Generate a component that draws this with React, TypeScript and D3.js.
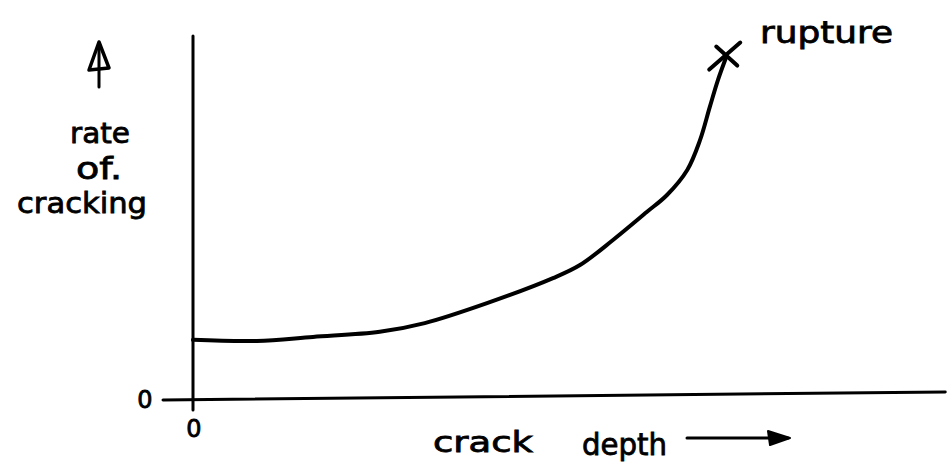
import React from 'react';
import * as d3 from 'd3';

// hand sketch: rate of cracking vs crack depth (arbitrary units, 0..100 on both axes)
const crackDepth = [0, 8.5, 16.0, 24.9, 30.9, 39.2, 48.0, 51.6, 56.0, 60.5, 63.2, 65.9, 67.6, 68.9, 70.0, 71.1];
const crackRate = [16.3, 16.0, 17.1, 18.5, 20.9, 26.4, 33.3, 36.9, 43.8, 51.5, 56.2, 63.1, 71.3, 80.4, 87.9, 94.2];
const rupturePoint = [71.1, 94.6];

const yLabelLines = ['rate', 'of.', 'cracking'];
const xLabelWords = ['crack', 'depth'];
const zeroLabel = '0';
const ruptureLabel = 'rupture';

const W = 951;
const H = 473;
const font = '"DejaVu Sans", sans-serif';

const App = () => {
  const x = d3.scaleLinear().domain([0, 100]).range([193, 943]);
  const y = d3.scaleLinear().domain([0, 100]).range([399, 36]);

  const pts: [number, number][] = crackDepth.map((d, i) => [d, crackRate[i]]);
  const line = d3.line<[number, number]>()
    .x(d => x(d[0]))
    .y(d => y(d[1]))
    .curve(d3.curveCatmullRom.alpha(0.5));

  const rx = x(rupturePoint[0]);
  const ry = y(rupturePoint[1]);

  return (
    <svg width={W} height={H} style={{ position: 'fixed', left: 0, top: 0, background: '#fff' }}>
      <g stroke="#000" strokeLinecap="round" fill="none">
        {/* axes */}
        <line x1={x(0)} y1={y(100)} x2={x(0)} y2={y(-3)} strokeWidth={3} />
        <line x1={x(-4)} y1={y(0) + 1} x2={x(100.3)} y2={y(0) - 7} strokeWidth={3} />
        {/* curve */}
        <path d={line(pts) || ''} strokeWidth={4} />
        {/* rupture cross */}
        <line x1={rx - 17} y1={ry + 14} x2={rx + 14} y2={ry - 13} strokeWidth={4} />
        <line x1={rx - 10} y1={ry - 9} x2={rx + 11} y2={ry + 10} strokeWidth={4} />
        {/* up arrow next to y label */}
        <line x1={99} y1={87} x2={99} y2={44} strokeWidth={3} />
        <path d="M99,42 L89,70 L109,68 Z" strokeWidth={3.5} strokeLinejoin="round" />
        {/* right arrow after x label */}
        <line x1={687} y1={438} x2={788} y2={438} strokeWidth={3} />
        <path d="M790,438 L768,431 L770,445 Z" fill="#000" strokeWidth={2} strokeLinejoin="round" />
      </g>

      <g fontFamily={font} fill="#000" stroke="#000" strokeWidth={0.8}>
        <text x={100} y={143} fontSize={28} textAnchor="middle" textLength={60} lengthAdjust="spacingAndGlyphs">{yLabelLines[0]}</text>
        <text x={99} y={179} fontSize={30} textAnchor="middle" textLength={46} lengthAdjust="spacingAndGlyphs">{yLabelLines[1]}</text>
        <text x={82} y={213} fontSize={28} textAnchor="middle" textLength={130} lengthAdjust="spacingAndGlyphs">{yLabelLines[2]}</text>

        <text x={145} y={408} fontSize={24} textAnchor="middle">{zeroLabel}</text>
        <text x={194} y={437} fontSize={24} textAnchor="middle">{zeroLabel}</text>

        <text x={433} y={452} fontSize={28} textLength={100} lengthAdjust="spacingAndGlyphs">{xLabelWords[0]}</text>
        <text x={582} y={455} fontSize={30} textLength={85} lengthAdjust="spacingAndGlyphs">{xLabelWords[1]}</text>

        <text x={760} y={43} fontSize={30} textLength={133} lengthAdjust="spacingAndGlyphs">{ruptureLabel}</text>
      </g>
    </svg>
  );
};

export default App;
